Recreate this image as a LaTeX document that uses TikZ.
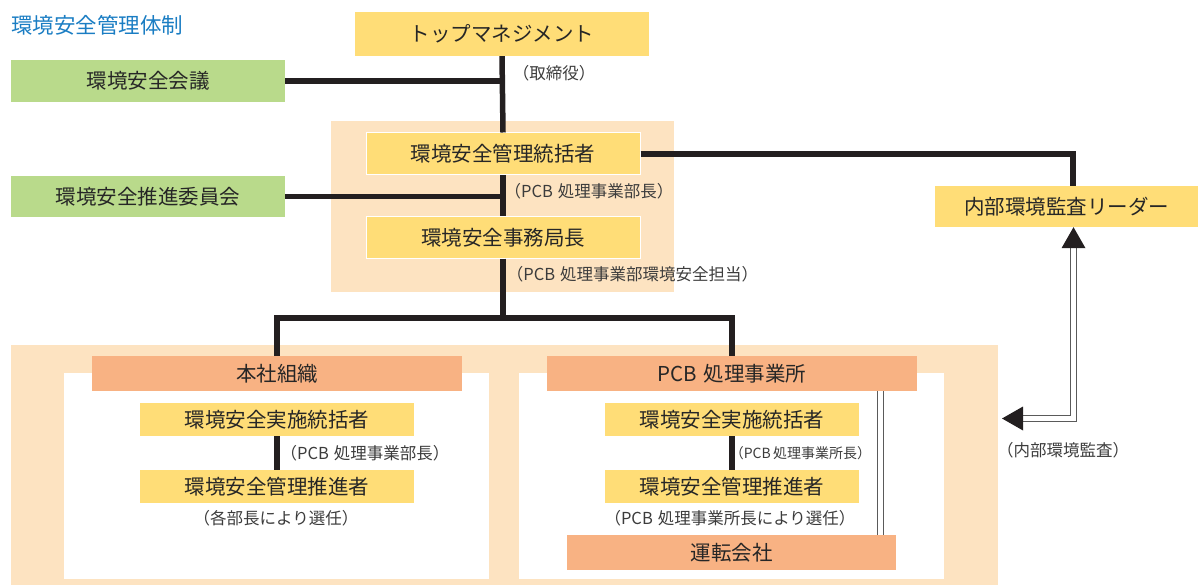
\documentclass[tikz,border=0pt]{standalone}
\usepackage{fontspec}
\setmainfont{Noto Sans CJK JP}
\usetikzlibrary{calc}
\definecolor{ybox}{HTML}{FFDD77}
\definecolor{gbox}{HTML}{B9DA8B}
\definecolor{sbox}{HTML}{F8B283}
\definecolor{beige}{HTML}{FDE3C1}
\definecolor{ink}{HTML}{231F20}
\definecolor{txt}{HTML}{262626}
\definecolor{note}{HTML}{3C3C3C}
\definecolor{titleblue}{HTML}{1A7DC3}
\definecolor{dline}{HTML}{5A5A5A}
\newcommand{\pcbsp}{\hspace{0.3em}}
\begin{document}
\begin{tikzpicture}[x=1pt,y=-1pt,
  lbl/.style={font=\fontsize{20.5}{22}\selectfont, text=txt},
  box/.style={lbl, inner sep=0, minimum height=42pt, anchor=center},
  ybx/.style={box, fill=ybox},
  gbx/.style={box, fill=gbox},
  sbx/.style={box, fill=sbox},
  panel/.style={fill=beige, inner sep=0},
  wpanel/.style={fill=white, inner sep=0},
  notetxt/.style={font=\fontsize{16.5}{18}\selectfont, text=note, inner sep=0},
  conn/.style={draw=ink, line width=5.5pt},
  dbl/.style={draw=dline, line width=1.4pt, double=white, double distance=5pt},
  dbltwo/.style={draw=dline, line width=1.3pt, double=white, double distance=4.6pt},
]
\useasboundingbox (0,0) rectangle (1198,585);

% title
\node[anchor=west, inner sep=0, text=titleblue, font=\fontsize{21.5}{23}\selectfont] (title) at (11,25.5) {環境安全管理体制};

% panels
\node[panel, minimum width=343pt, minimum height=171pt] (topPanel) at (502.5,206.5) {};
\node[panel, minimum width=987pt, minimum height=240pt] (botPanel) at (504.5,465) {};
\node[wpanel, minimum width=425pt, minimum height=206pt] (leftPanel) at (276.5,476) {};
\node[wpanel, minimum width=425pt, minimum height=206pt] (rightPanel) at (731.5,476) {};

% upper boxes
\node[ybx, minimum width=294pt, minimum height=44pt] (top) at (502,34) {トップマネジメント};
\node[gbx, minimum width=274pt] (kaigi) at (148,81) {環境安全会議};
\node[gbx, minimum width=274pt, minimum height=41pt] (iinkai) at (148,196.5) {環境安全推進委員会};
\node[ybx, minimum width=274pt, draw=white, line width=1pt] (tokatsu) at (503,154) {環境安全管理統括者};
\node[ybx, minimum width=274pt, minimum height=41pt, draw=white, line width=1pt] (jimu) at (503,237.5) {環境安全事務局長};
\node[ybx, minimum width=263pt, minimum height=41pt] (audit) at (1066.5,206.5) {内部環境監査リーダー};

% lower boxes
\node[sbx, minimum width=370pt, minimum height=35pt] (honsha) at (277,373.5) {本社組織};
\node[sbx, minimum width=370pt, minimum height=35pt] (pcb) at (732,373.5) {PCB\pcbsp 処理事業所};
\node[ybx, minimum width=274pt, minimum height=33pt] (ljisshi) at (277,419.5) {環境安全実施統括者};
\node[ybx, minimum width=274pt, minimum height=33pt] (lsuishin) at (277,486.5) {環境安全管理推進者};
\node[ybx, minimum width=254pt, minimum height=33pt] (rjisshi) at (732,419.5) {環境安全実施統括者};
\node[ybx, minimum width=254pt, minimum height=33pt] (rsuishin) at (732,486.5) {環境安全管理推進者};
\node[sbx, minimum width=329pt, minimum height=35pt] (unten) at (731.5,552.5) {運転会社};

% notes
\node[notetxt] (n1) at (554,73) {（取締役）};
\node[notetxt] (n2) at (589,191) {（PCB\pcbsp 処理事業部長）};
\node[notetxt] (n3) at (632.5,274) {（PCB\pcbsp 処理事業部環境安全担当）};
\node[notetxt] (n4) at (365,453) {（PCB\pcbsp 処理事業部長）};
\node[notetxt] (n5) at (276,518) {（各部長により選任）};
\node[notetxt, font=\fontsize{14}{15}\selectfont] (n6) at (800.5,453) {（PCB\,処理事業所長）};
\node[notetxt] (n7) at (730,518) {（PCB\pcbsp 処理事業所長により選任）};
\node[notetxt] (n8) at (1063,450) {（内部環境監査）};

% connectors
\draw[conn] (top.south) -- (tokatsu.north);
\draw[conn] (kaigi.east) -- (kaigi.east -| top.south);
\draw[conn] (tokatsu.south) -- (jimu.north);
\draw[conn] (iinkai.east) -- (iinkai.east -| tokatsu.south);
\coordinate (split) at (jimu.south |- 0,318);
\draw[conn] (jimu.south) -- (split);
\draw[conn] (honsha.north) |- (split) -| (pcb.north);
\draw[conn] (ljisshi.south) -- (lsuishin.north);
\draw[conn] (rjisshi.south) -- (rsuishin.north);
\draw[conn] (tokatsu.east) -| ([xshift=6.5pt]audit.north);

% internal audit double arrow
\coordinate (aTop) at ([xshift=7pt]audit.south);
\coordinate (lTip) at (1002,418.5);
\draw[dbl] ($(aTop)+(0,19)$) |- ($(lTip)+(19,0)$);
\fill[ink] (aTop) -- ++(-12,21) -- ++(24,0) -- cycle;
\fill[ink] (lTip) -- ++(21,-12) -- ++(0,24) -- cycle;

% PCB to operating company
\draw[dbltwo] (pcb.south -| 880.5,0) -- (unten.north -| 880.5,0);
\end{tikzpicture}
\end{document}
